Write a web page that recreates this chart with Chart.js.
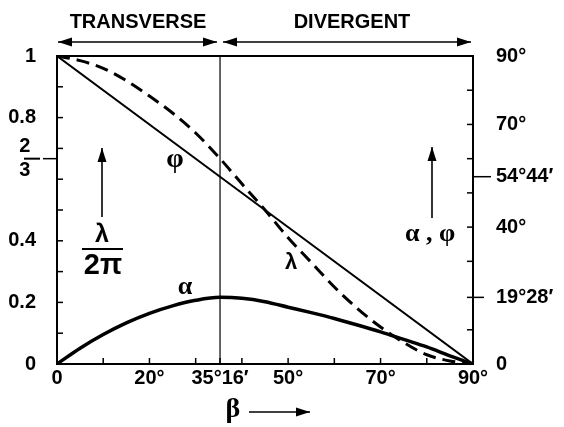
<!DOCTYPE html>
<html>
<head>
    <title>Transverse / divergent</title>
    <script src="https://cdn.jsdelivr.net/npm/chart.js"></script>
    <style>
        body { margin: 0; background: #fff; }
    </style>
</head>
<body>
    <canvas id="beta-chart" width="564" height="427"></canvas>

    <script>
        // values
        const betaDeg     = [0, 5, 10, 15, 20, 25, 30, 35.27, 40, 45, 50, 55, 60, 65, 70, 75, 80, 85, 90];
        const lambdaRatio = [1, 0.985, 0.96, 0.92, 0.87, 0.815, 0.75, 0.667, 0.585, 0.5, 0.41, 0.33, 0.25, 0.18, 0.12, 0.07, 0.03, 0.01, 0];
        const alphaDeg    = [0, 4.6, 8.6, 12.0, 14.8, 17.0, 18.6, 19.47, 19.2, 18.2, 16.6, 15.0, 13.3, 11.4, 9.4, 7.2, 5.0, 2.4, 0];
        const phiBeta     = [0, 35.27, 90];
        const phiDeg      = [90, 54.73, 0];
        const boundaryBeta = 35.27;

        const xTicks     = [0, 10, 20, 30, 35.27, 40, 50, 60, 70, 80, 90];
        const xLabels    = { 0: '0', 20: '20°', 35.27: '35°16′', 50: '50°', 70: '70°', 90: '90°' };
        const leftTicks  = [0, 0.1, 0.2, 0.3, 0.4, 0.5, 0.6, 2 / 3, 0.7, 0.8, 0.9, 1];
        const leftLabels = { 0: '0', 0.2: '0.2', 0.4: '0.4', 0.8: '0.8', 1: '1' };
        const rightTicks  = [0, 10, 19.47, 30, 40, 50, 54.73, 60, 70, 80, 90];
        const rightLabels = { 0: '0', 19.47: '19°28′', 40: '40°', 54.73: '54°44′', 70: '70°', 90: '90°' };

        const isTwoThirds = v => Math.abs(v - 2 / 3) < 1e-6;

        function lookup(map, v) {
            for (const k in map) {
                if (Math.abs(Number(k) - v) < 1e-6) return map[k];
            }
            return '';
        }

        const pts = (xs, ys) => xs.map((x, i) => ({ x: x, y: ys[i] }));

        const tickFont = { family: 'Liberation Sans', size: 20, weight: 'bold' };

        function seg(ctx, x1, y1, x2, y2) {
            ctx.beginPath();
            ctx.moveTo(x1, y1);
            ctx.lineTo(x2, y2);
            ctx.stroke();
        }

        function head(ctx, x, y, ang, len, w) {
            const c = Math.cos(ang), s = Math.sin(ang);
            ctx.beginPath();
            ctx.moveTo(x, y);
            ctx.lineTo(x - len * c + w * s, y - len * s - w * c);
            ctx.lineTo(x - len * c - w * s, y - len * s + w * c);
            ctx.closePath();
            ctx.fill();
        }

        function arrow(ctx, x1, y1, x2, y2, both) {
            const ang = Math.atan2(y2 - y1, x2 - x1);
            seg(ctx, x1, y1, x2, y2);
            head(ctx, x2, y2, ang, 14, 4.5);
            if (both) head(ctx, x1, y1, ang + Math.PI, 14, 4.5);
        }

        function txt(ctx, s, x, y, font) {
            ctx.font = font;
            ctx.textAlign = 'center';
            ctx.textBaseline = 'middle';
            ctx.fillText(s, x, y);
        }

        const decor = {
            id: 'decor',
            afterDraw(chart) {
                const ctx = chart.ctx;
                const a = chart.chartArea;
                const sx = chart.scales.x, sy = chart.scales.y, sr = chart.scales.y2;
                ctx.save();
                ctx.strokeStyle = '#000';
                ctx.fillStyle = '#000';
                ctx.lineWidth = 2;

                // top edge of the frame
                seg(ctx, a.left, a.top, a.right, a.top);

                // tick marks, inward except the special values
                ctx.lineWidth = 1.5;
                sx.ticks.forEach(t => {
                    const px = sx.getPixelForValue(t.value);
                    seg(ctx, px, a.bottom, px, a.bottom - 6);
                });
                sy.ticks.forEach(t => {
                    const py = sy.getPixelForValue(t.value);
                    if (isTwoThirds(t.value)) seg(ctx, a.left - 14, py, a.left, py);
                    else seg(ctx, a.left, py, a.left + 6, py);
                });
                sr.ticks.forEach(t => {
                    const py = sr.getPixelForValue(t.value);
                    if (Math.abs(t.value - 54.73) < 0.01) seg(ctx, a.right, py, a.right + 18, py);
                    else if (Math.abs(t.value - 19.47) < 0.01) seg(ctx, a.right - 6, py, a.right + 11, py);
                    else seg(ctx, a.right, py, a.right - 6, py);
                });

                // fraction bar of the 2/3 label
                ctx.lineWidth = 2;
                const p23 = sy.getPixelForValue(2 / 3);
                seg(ctx, 24, p23, 40, p23);

                // region headers
                ctx.lineWidth = 1.6;
                const xb = sx.getPixelForValue(boundaryBeta);
                txt(ctx, 'TRANSVERSE', 138, 22, 'bold 20px "Liberation Sans"');
                txt(ctx, 'DIVERGENT', 352, 22, 'bold 20px "Liberation Sans"');
                arrow(ctx, a.left + 1, 42, xb - 3, 42, true);
                arrow(ctx, xb + 3, 42, a.right - 2, 42, true);

                // beta label
                txt(ctx, 'β', 233, 410, 'bold 28px "Liberation Serif"');
                arrow(ctx, 249, 412, 310, 412, false);

                // left axis title
                arrow(ctx, 102, 217, 102, 148, false);
                txt(ctx, 'λ', 102, 235, 'bold 25px "Liberation Sans"');
                ctx.lineWidth = 2.2;
                seg(ctx, 82, 249, 123, 249);
                txt(ctx, '2π', 103, 266, 'bold 29px "Liberation Sans"');

                // right axis title
                ctx.lineWidth = 1.6;
                arrow(ctx, 432, 218, 432, 147, false);
                txt(ctx, 'α , φ', 430, 234, 'bold 26px "Liberation Serif"');

                // curve labels
                txt(ctx, 'φ', 175, 160, 'bold 28px "Liberation Serif"');
                txt(ctx, 'α', 185, 287, 'bold 26px "Liberation Serif"');
                txt(ctx, 'λ', 291, 263, 'bold 22px "Liberation Sans"');

                ctx.restore();
            }
        };

        const ctx = document.getElementById('beta-chart').getContext('2d');
        new Chart(ctx, {
            type: 'scatter',
            data: {
                datasets: [
                    {
                        label: 'boundary',
                        data: [{ x: boundaryBeta, y: 0 }, { x: boundaryBeta, y: 1 }],
                        yAxisID: 'y',
                        showLine: true,
                        borderColor: '#000',
                        borderWidth: 1.2,
                        pointRadius: 0
                    },
                    {
                        label: 'phi',
                        data: pts(phiBeta, phiDeg),
                        yAxisID: 'y2',
                        showLine: true,
                        borderColor: '#000',
                        borderWidth: 2,
                        pointRadius: 0
                    },
                    {
                        label: 'alpha',
                        data: pts(betaDeg, alphaDeg),
                        yAxisID: 'y2',
                        showLine: true,
                        cubicInterpolationMode: 'monotone',
                        borderColor: '#000',
                        borderWidth: 3.5,
                        pointRadius: 0
                    },
                    {
                        label: 'lambda / 2pi',
                        data: pts(betaDeg, lambdaRatio),
                        yAxisID: 'y',
                        showLine: true,
                        cubicInterpolationMode: 'monotone',
                        borderColor: '#000',
                        borderWidth: 3,
                        borderDash: [13, 7],
                        pointRadius: 0
                    }
                ]
            },
            options: {
                responsive: false,
                animation: false,
                layout: { padding: { top: 56, left: 0, right: 0, bottom: 0 } },
                plugins: {
                    legend: { display: false },
                    tooltip: { enabled: false }
                },
                scales: {
                    x: {
                        type: 'linear',
                        position: 'bottom',
                        min: 0,
                        max: 90,
                        afterBuildTicks: s => { s.ticks = xTicks.map(v => ({ value: v })); },
                        afterFit: s => { s.height = 63; },
                        grid: { display: false },
                        border: { display: true, color: '#000', width: 2 },
                        ticks: {
                            autoSkip: false,
                            maxRotation: 0,
                            padding: -6,
                            color: '#000',
                            font: tickFont,
                            callback: v => lookup(xLabels, v)
                        }
                    },
                    y: {
                        type: 'linear',
                        position: 'left',
                        min: 0,
                        max: 1,
                        afterBuildTicks: s => { s.ticks = leftTicks.map(v => ({ value: v })); },
                        afterFit: s => { s.width = 57; },
                        grid: { display: false },
                        border: { display: true, color: '#000', width: 2 },
                        ticks: {
                            autoSkip: false,
                            padding: 13,
                            color: '#000',
                            font: tickFont,
                            callback: v => isTwoThirds(v) ? ['2 ', '3 '] : lookup(leftLabels, v)
                        }
                    },
                    y2: {
                        type: 'linear',
                        position: 'right',
                        min: 0,
                        max: 90,
                        afterBuildTicks: s => { s.ticks = rightTicks.map(v => ({ value: v })); },
                        afterFit: s => { s.width = 91; },
                        grid: { display: false },
                        border: { display: true, color: '#000', width: 2 },
                        ticks: {
                            autoSkip: false,
                            padding: 15,
                            color: '#000',
                            font: tickFont,
                            callback: v => lookup(rightLabels, v)
                        }
                    }
                }
            },
            plugins: [decor]
        });
    </script>
</body>
</html>
